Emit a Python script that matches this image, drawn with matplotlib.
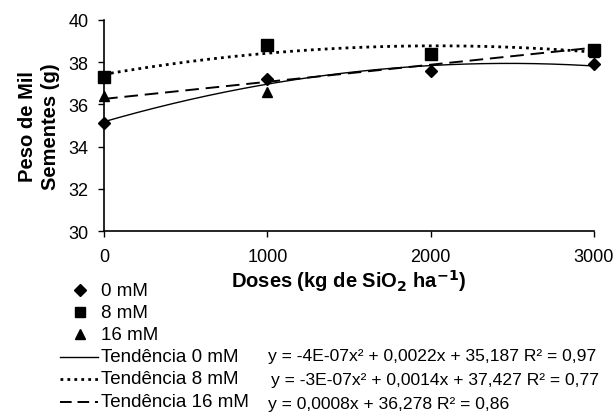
import numpy as np
import matplotlib
matplotlib.use("Agg")
import matplotlib.pyplot as plt
from matplotlib.lines import Line2D

plt.rcParams['font.family'] = ['Liberation Sans', 'DejaVu Sans']

doses = [0, 1000, 2000, 3000]
peso_0mm = [35.1, 37.2, 37.6, 37.9]
peso_8mm = [37.3, 38.8, 38.4, 38.6]
peso_16mm = [36.4, 36.6, 38.4, 38.5]

series_names = ['0 mM', '8 mM', '16 mM']
eq_labels = [
    'y = -4E-07x² + 0,0022x + 35,187 R² = 0,97',
    'y = -3E-07x² + 0,0014x + 37,427 R² = 0,77',
    'y = 0,0008x + 36,278 R² = 0,86',
]

fig = plt.figure(figsize=(6.16, 4.14), dpi=100)
ax = fig.add_axes([0.169, 0.4396, 0.795, 0.5097])

# trend lines, fitted the way the spreadsheet does it
xs = np.linspace(0, 3000, 200)
fit0 = np.polyfit(doses, peso_0mm, 2)
fit8 = np.polyfit(doses, peso_8mm, 2)
fit16 = np.polyfit(doses, peso_16mm, 1)
ax.plot(xs, np.polyval(fit0, xs), color='black', lw=1.0, ls='-')
ax.plot(xs, np.polyval(fit8, xs), color='black', lw=2.0, ls=(0, (1, 1.5)))
ax.plot(xs, np.polyval(fit16, xs), color='black', lw=1.4, ls=(0, (7, 3.5)))

ax.plot(doses, peso_16mm, '^', color='black', ms=7.5, ls='none', clip_on=False)
ax.plot(doses, peso_8mm, 's', color='black', ms=8.5, ls='none', clip_on=False)
ax.plot(doses, peso_0mm, 'D', color='black', ms=6.5, ls='none', clip_on=False)

ax.set_xlim(0, 3000)
ax.set_ylim(30, 40)
ax.set_xticks([0, 1000, 2000, 3000])
ax.set_yticks([30, 32, 34, 36, 38, 40])
ax.tick_params(labelsize=13, length=4, width=1, direction='out')
ax.tick_params(axis='x', pad=8)
ax.tick_params(axis='y', pad=7)
for s in ['top', 'right']:
    ax.spines[s].set_visible(False)
for s in ['left', 'bottom']:
    ax.spines[s].set_linewidth(1.2)

ax.set_xlabel('Doses (kg de SiO$_\\mathbf{2}$ ha$^\\mathbf{-1}$)', fontsize=14.5,
              fontweight='bold', labelpad=2)
ax.set_ylabel('Peso de Mil\nSementes (g)', fontsize=14.5, fontweight='bold',
              labelpad=6, linespacing=1.3)

# legend drawn below the axis like the original
H = 414.0
fy = lambda py: 1 - py / H
fx = lambda px: px / 616.0
marker_rows = [291, 313, 335]
line_rows = [358, 380, 403]
eq_rows = [357, 381, 405]
marker_specs = [('D', 6), ('s', 7.5), ('^', 7)]
for (m, ms), name, ry in zip(marker_specs, series_names, marker_rows):
    fig.add_artist(Line2D([fx(80)], [fy(ry)], marker=m, ms=ms, color='black', ls='none'))
    fig.text(fx(101), fy(ry), name, fontsize=13.5, va='center')

styles = [('-', 1.0), ((0, (1, 1.5)), 2.0), ((0, (6, 3)), 1.4)]
eq_x = [268, 271, 268]
for (ls, lw), name, eq, ry, ey, ex in zip(styles, series_names, eq_labels,
                                          line_rows, eq_rows, eq_x):
    fig.add_artist(Line2D([fx(60), fx(98)], [fy(ry), fy(ry)], color='black', ls=ls, lw=lw))
    fig.text(fx(101), fy(ry), 'Tendência ' + name, fontsize=13.5, va='center')
    fig.text(fx(ex), fy(ey), eq, fontsize=12.6, va='center')

fig.savefig('out.png', dpi=100)
